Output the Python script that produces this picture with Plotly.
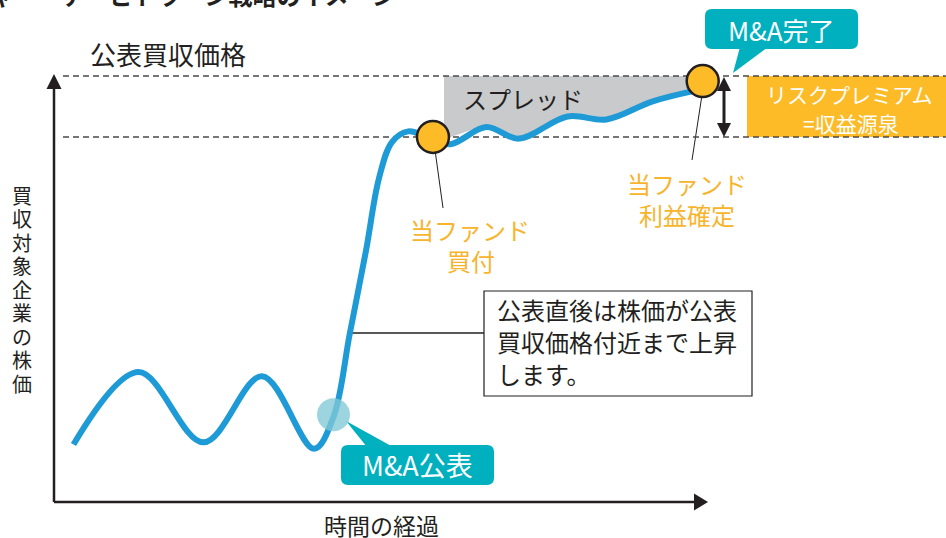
import plotly.graph_objects as go

# ---------------- data ----------------
time = [3, 13, 23, 32, 40, 43, 45.5, 48, 50, 52, 54.5, 58, 61, 66.5, 71.5, 79, 85, 92, 98.5]
price = [13.5, 30.5, 14, 29.5, 12.5, 20, 39.5, 59, 76, 84.5, 87, 85.3, 84, 88, 85.3, 90.5, 89.8, 94, 96.5]

offer_price = 100          # 公表買収価格
buy_price = 85.7           # 当ファンド買付価格
announce_t, announce_p = 43, 20.5
buy_t, buy_p = 58.3, 85.7
exit_t, exit_p = 99.8, 98.8
spread_start_t = 60
line_end_t = 137.2

# ---------------- texts ----------------
title_text = "マージャー・アービトラージ戦略のイメージ"
offer_label = "公表買収価格"
y_label = "買収対象企業の株価"
x_label = "時間の経過"
spread_label = "スプレッド"
done_label = "M&A完了"
announce_label = "M&A公表"
premium_lines = ["リスクプレミアム", "=収益源泉"]
buy_lines = ["当ファンド", "買付"]
exit_lines = ["当ファンド", "利益確定"]
note_lines = ["公表直後は株価が公表", "買収価格付近まで上昇", "します。"]

# ---------------- styling helpers (pixel -> axis units for decorations) ----------------
W, H = 946, 538
X0, SX, Y0, SY = 54, 6.5, 502, 4.26


def dx(px):
    return (px - X0) / SX


def dy(py):
    return (Y0 - py) / SY


def path(points, close=True):
    s = "M " + " L ".join(f"{dx(a):.4f},{dy(b):.4f}" for a, b in points)
    return s + (" Z" if close else "")


def rrect(x0, y0, x1, y1, r):
    def p(a, b):
        return f"{dx(a):.4f},{dy(b):.4f}"
    return (f"M {p(x0 + r, y0)} L {p(x1 - r, y0)} Q {p(x1, y0)} {p(x1, y0 + r)} "
            f"L {p(x1, y1 - r)} Q {p(x1, y1)} {p(x1 - r, y1)} L {p(x0 + r, y1)} "
            f"Q {p(x0, y1)} {p(x0, y1 - r)} L {p(x0, y0 + r)} Q {p(x0, y0)} {p(x0 + r, y0)} Z")


FONT = "Noto Sans CJK JP, Noto Sans, sans-serif"
BLUE = "#1E9AD7"
TEAL = "#00B0BF"
ORANGE = "#FCBB27"
ORANGE_TXT = "#F7B42C"
GRAY = "#C9CACC"
DARK = "#231F20"

fig = go.Figure()

# spread (gray) region between the offer price and the price path
fig.add_trace(go.Scatter(x=[spread_start_t, exit_t], y=[offer_price, offer_price],
                         mode="lines", line=dict(width=0, color=GRAY), hoverinfo="skip"))
sx = [spread_start_t] + [t for t in time if spread_start_t < t] + [exit_t]
sy = [buy_price] + [max(p, buy_price) for t, p in zip(time, price) if spread_start_t < t] + [exit_p]
fig.add_trace(go.Scatter(x=sx, y=sy, mode="lines", fill="tonexty", fillcolor=GRAY,
                         line=dict(width=0, color=GRAY, shape="spline"), hoverinfo="skip"))

# reference dashed lines
for lvl in (offer_price, buy_price):
    fig.add_trace(go.Scatter(x=[dx(63), line_end_t], y=[lvl, lvl], mode="lines",
                             line=dict(color="#4A4A4A", width=1.5, dash="6px,4px"),
                             hoverinfo="skip"))

# price path
fig.add_trace(go.Scatter(x=time, y=price, mode="lines",
                         line=dict(color=BLUE, width=6, shape="spline", smoothing=1.0),
                         hoverinfo="skip"))

# M&A announcement marker
fig.add_trace(go.Scatter(x=[announce_t], y=[announce_p], mode="markers",
                         marker=dict(size=33, color="rgba(128,200,214,0.78)", line=dict(width=0)),
                         hoverinfo="skip"))

# buy / exit markers
fig.add_trace(go.Scatter(x=[buy_t, exit_t], y=[buy_p, exit_p], mode="markers",
                         marker=dict(size=32, color=ORANGE, line=dict(width=2.5, color=DARK)),
                         hoverinfo="skip"))

shapes = []
# orange premium box (below traces so dashed lines run over it)
shapes.append(dict(type="rect", xref="x", yref="y", x0=dx(747), x1=dx(946), y0=offer_price,
                   y1=buy_price, fillcolor=ORANGE, line=dict(width=0), layer="below"))
# axes
shapes.append(dict(type="line", xref="x", yref="y", x0=0, y0=0, x1=0, y1=dy(86),
                   line=dict(color=DARK, width=2.5), layer="above"))
shapes.append(dict(type="path", xref="x", yref="y", path=path([(54, 74), (46.5, 89), (61.5, 89)]),
                   fillcolor=DARK, line=dict(width=0), layer="above"))
shapes.append(dict(type="line", xref="x", yref="y", x0=0, y0=0, x1=dx(696), y1=0,
                   line=dict(color=DARK, width=2.5), layer="above"))
shapes.append(dict(type="path", xref="x", yref="y", path=path([(708, 502), (694, 493.5), (694, 510.5)]),
                   fillcolor=DARK, line=dict(width=0), layer="above"))
# double arrow (risk premium)
shapes.append(dict(type="line", xref="x", yref="y", x0=dx(724), y0=dy(88), x1=dx(724), y1=dy(126),
                   line=dict(color=DARK, width=3), layer="above"))
shapes.append(dict(type="path", xref="x", yref="y", path=path([(724, 77), (717, 91), (731, 91)]),
                   fillcolor=DARK, line=dict(width=0), layer="above"))
shapes.append(dict(type="path", xref="x", yref="y", path=path([(724, 137), (717, 123), (731, 123)]),
                   fillcolor=DARK, line=dict(width=0), layer="above"))
# pointer lines from markers
shapes.append(dict(type="line", xref="x", yref="y", x0=dx(435), y0=dy(150), x1=dx(443), y1=dy(208),
                   line=dict(color=DARK, width=1), layer="below"))
shapes.append(dict(type="line", xref="x", yref="y", x0=dx(702), y0=dy(95), x1=dx(692), y1=dy(160),
                   line=dict(color=DARK, width=1), layer="below"))
# note connector and box
shapes.append(dict(type="line", xref="x", yref="y", x0=dx(350), y0=dy(333), x1=dx(484), y1=dy(333),
                   line=dict(color=DARK, width=1.5), layer="below"))
shapes.append(dict(type="rect", xref="x", yref="y", x0=dx(484), y0=dy(291), x1=dx(752), y1=dy(396),
                   fillcolor="white", line=dict(color=DARK, width=1.2), layer="above"))
# M&A公表 callout
shapes.append(dict(type="path", xref="x", yref="y", path=path([(346, 421), (367, 447), (393, 447)]),
                   fillcolor=TEAL, line=dict(width=0), layer="below"))
shapes.append(dict(type="path", xref="x", yref="y", path=rrect(341, 445, 494, 485, 7),
                   fillcolor=TEAL, line=dict(width=0), layer="above"))
# M&A完了 callout
shapes.append(dict(type="path", xref="x", yref="y", path=path([(733, 73), (740, 47), (768, 47)]),
                   fillcolor=TEAL, line=dict(width=0), layer="above"))
shapes.append(dict(type="path", xref="x", yref="y", path=rrect(705, 9, 858, 49, 7),
                   fillcolor=TEAL, line=dict(width=0), layer="above"))

ann = []


def text(s, px, py, size, color=DARK, xanchor="center", bold=False):
    ann.append(dict(text=(f"<b>{s}</b>" if bold else s), x=px / W, y=1 - py / H,
                    xref="paper", yref="paper",
                    showarrow=False, xanchor=xanchor, yanchor="middle",
                    font=dict(family=FONT, size=size, color=color)))


text(title_text, 398, -6, 24, xanchor="right", bold=True)
text(offer_label, 168, 53, 26)
for i, ch in enumerate(y_label):
    text(ch, 22, 195 + 23.5 * i, 20)
text(x_label, 381, 525, 23)
text(spread_label, 523, 98, 24)
text(done_label, 781, 29, 26, color="white")
text(announce_label, 417, 464, 27, color="white")
text(premium_lines[0], 849, 94, 21, color="white")
text(premium_lines[1], 851, 123, 21, color="white")
text(buy_lines[0], 470, 229, 24, color=ORANGE_TXT)
text(buy_lines[1], 471, 260, 24, color=ORANGE_TXT)
text(exit_lines[0], 687, 183, 24, color=ORANGE_TXT)
text(exit_lines[1], 687, 214, 24, color=ORANGE_TXT)
for i, ln in enumerate(note_lines):
    text(ln, 495, 309 + 32 * i, 24, xanchor="left")

fig.update_layout(
    width=W, height=H,
    margin=dict(l=0, r=0, t=0, b=0),
    paper_bgcolor="white", plot_bgcolor="white",
    showlegend=False,
    xaxis=dict(range=[dx(0), dx(W)], visible=False, fixedrange=True),
    yaxis=dict(range=[dy(H), dy(0)], visible=False, fixedrange=True),
    shapes=shapes,
    annotations=ann,
)

fig.write_html("out.html", config={"displayModeBar": False},
               post_script="document.body.style.margin='0';document.body.style.overflow='hidden';")
